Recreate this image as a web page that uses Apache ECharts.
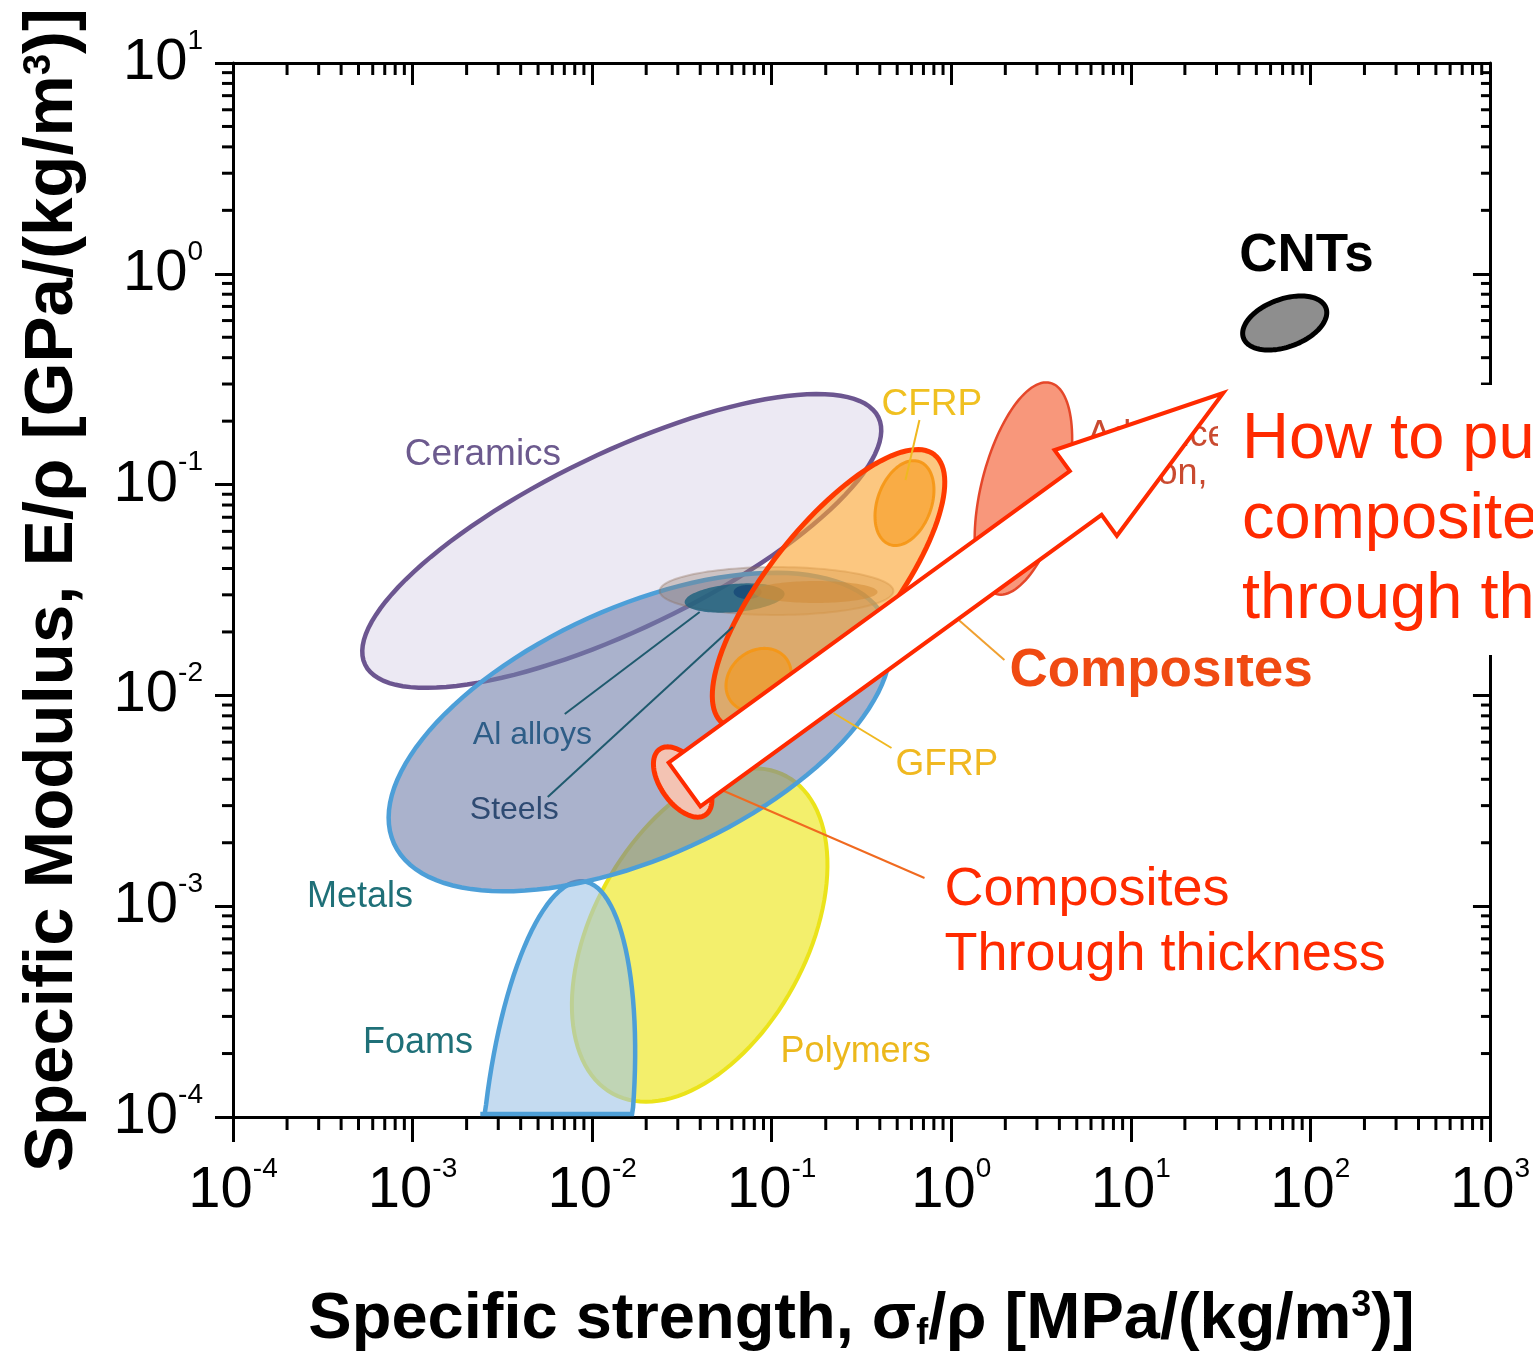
<!DOCTYPE html>
<html>
<head>
<meta charset="utf-8">
<style>
  html, body { margin: 0; padding: 0; background: #fff; }
  #chart { width: 1533px; height: 1362px; }
</style>
<script src="https://cdn.jsdelivr.net/npm/echarts@6/dist/echarts.min.js"></script>
</head>
<body>
<div id="chart"></div>
<script>
// axis ranges
const xMin = 1e-4, xMax = 1e3;
const yMin = 1e-4, yMax = 10;

// material envelopes: both ends of the long axis [strength, modulus], width = fraction of length
const regionNames = ['Ceramics', 'Polymers', 'Foams', 'Metals', 'SteelsOuter', 'AlAlloys', 'AlCore',
  'SteelsInner', 'Composites', 'CFRP', 'GFRP', 'Advanced', 'Through', 'CNTs'];
const endA = [[0.393, 0.2085], [0.1209, 0.004131], [0.00893, 0.001312], [0.4295, 0.02265],
  [0.4764, 0.03128], [0.1180, 0.03040], [0.08785, 0.03094], [0.3885, 0.03094],
  [0.806, 0.1385], [0.665, 0.1285], [0.1192, 0.01513], [3.561, 0.3037],
  [0.04287, 0.002714], [122.1, 0.6883]];
const endB = [[5.44e-4, 0.0140], [0.01304, 1.29e-4], [0.004634, 6.4e-6], [7.88e-4, 0.001983],
  [0.02377, 0.03128], [0.03276, 0.02761], [0.06138, 0.03094], [0.07929, 0.03094],
  [0.0533, 0.00738], [0.453, 0.0520], [0.05998, 0.009254], [1.787, 0.03023],
  [0.02378, 0.005556], [42.39, 0.4959]];
const widthRatio = [0.309, 0.591, 0.30, 0.463, 0.205, 0.28, 0.5, 0.177, 0.357, 0.614, 0.83, 0.385, 0.55, 0.545];

// labels
const labelTexts = ['Ceramics', 'Al alloys', 'Steels', 'Metals', 'Foams', 'Polymers', 'GFRP', 'CFRP',
  'Composites', 'Composites', 'Through thickness', 'CNTs', 'Advanced', 'carbon, aramid'];
const labelAt = [[9.06e-4, 0.1381], [0.002166, 0.006489], [0.002084, 0.002860], [2.581e-4, 0.001105],
  [5.29e-4, 2.244e-4], [0.1121, 2.034e-4], [0.4892, 0.004675], [0.4089, 0.2385],
  [2.108, 0.01305], [0.9167, 0.001193], [0.9167, 5.868e-4], [40.16, 1.214],
  [5.727, 0.1701], [5.727, 0.1123]];

// leader lines
const leaderFrom = [[0.665, 0.2025], [0.2211, 0.008251], [1.069, 0.02330], [0.05263, 0.003557],
  [0.007040, 0.008162], [0.005659, 0.003296]];
const leaderTo = [[0.5561, 0.1052], [0.4648, 0.005629], [1.977, 0.01472], [0.7096, 0.001361],
  [0.03971, 0.02487], [0.06061, 0.02111]];

// the big arrow
const arrowTail = [0.0327, 0.003776];
const arrowTip = [32.7, 0.272];

// minor ticks 2..9 in each decade
const xMinorTicks = [];
for (let k = -4; k < 3; k++) for (let m = 2; m < 10; m++) xMinorTicks.push(m * Math.pow(10, k));
const yMinorTicks = [];
for (let k = -4; k < 1; k++) for (let m = 2; m < 10; m++) yMinorTicks.push(m * Math.pow(10, k));

const regionStyle = {
  Ceramics: { fill: '#ece9f3', stroke: '#6c5690', lw: 4.5 },
  Polymers: { fill: '#f3ef6c', stroke: '#ebe31a', lw: 4 },
  Foams: { fill: 'rgba(158,195,230,0.6)', stroke: '#4d9fd8', lw: 4.5 },
  Metals: { fill: 'rgba(113,127,170,0.6)', stroke: '#4d9fd8', lw: 4.5 },
  SteelsOuter: { fill: 'rgba(150,125,110,0.35)', stroke: 'rgba(140,110,90,0.35)', lw: 2 },
  AlAlloys: { fill: 'rgba(25,95,125,0.8)', stroke: null, lw: 0 },
  AlCore: { fill: '#1c4f7a', stroke: null, lw: 0 },
  SteelsInner: { fill: 'rgba(140,90,50,0.5)', stroke: null, lw: 0 },
  Composites: { fill: 'rgba(250,165,50,0.62)', stroke: '#ff3a00', lw: 5 },
  CFRP: { fill: 'rgba(245,150,20,0.55)', stroke: 'rgba(245,150,20,0.9)', lw: 3 },
  GFRP: { fill: 'rgba(245,150,20,0.55)', stroke: 'rgba(245,150,20,0.9)', lw: 3 },
  Advanced: { fill: '#f8977b', stroke: '#e5472a', lw: 2.5 },
  Through: { fill: '#f3c3b3', stroke: '#ff3300', lw: 5 },
  CNTs: { fill: '#8e8e8e', stroke: '#000', lw: 5 }
};

const labelStyle = [
  { c: '#6c5a8e', s: 37 }, { c: '#2e5d87', s: 32 }, { c: '#2e4a72', s: 32 }, { c: '#1f7078', s: 36 },
  { c: '#1f7078', s: 36 }, { c: '#ecb81c', s: 36 }, { c: '#f0b820', s: 37 }, { c: '#f0c020', s: 37 },
  { c: '#f04a12', s: 53, w: 'bold' }, { c: '#ff2a00', s: 54 }, { c: '#ff2a00', s: 54 },
  { c: '#000', s: 53, w: 'bold' }, { c: '#c94a30', s: 36 }, { c: '#c94a30', s: 36 }
];
const leaderColor = ['#f0b820', '#f0b820', '#f0a030', '#f06a20', '#1f5a6e', '#1f5a6e'];

const font = '"Liberation Sans", Arial, sans-serif';
const narrow = '"Liberation Sans Narrow", "Liberation Sans", sans-serif';

var chart = echarts.init(document.getElementById('chart'));

function expLabel(value) {
  const e = Math.round(Math.log10(value));
  return '{b|10}{s|' + e + '}';
}
const tickRich = {
  b: { fontFamily: narrow, fontSize: 58, lineHeight: 72, color: '#000' },
  s: { fontFamily: narrow, fontSize: 28, lineHeight: 28, verticalAlign: 'top', color: '#000' }
};

function ellipse(api, a, b, ratio, floorY) {
  const p1 = api.coord(a), p2 = api.coord(b);
  const cx = (p1[0] + p2[0]) / 2, cy = (p1[1] + p2[1]) / 2;
  const dx = (p1[0] - p2[0]) / 2, dy = (p1[1] - p2[1]) / 2;
  const ra = Math.hypot(dx, dy), rb = ra * ratio;
  const ux = dx / ra, uy = dy / ra;
  const pts = [];
  for (let i = 0; i < 120; i++) {
    const t = i / 120 * 2 * Math.PI;
    const c = Math.cos(t) * ra, s = Math.sin(t) * rb;
    pts.push([cx + c * ux - s * uy, Math.min(cy + c * uy + s * ux, floorY)]);
  }
  return pts;
}

const option = {
  animation: false,
  backgroundColor: '#fff',
  grid: { left: 233, right: 42, top: 63, bottom: 245 },
  xAxis: [{
    type: 'log', logBase: 10, min: xMin, max: xMax, interval: 1, position: 'bottom',
    name: '{t|Specific strength, σ}{sub|f}{t|/ρ [MPa/(kg/m}{sup|3}{t|)]}',
    nameLocation: 'middle', nameGap: 171,
    nameTextStyle: {
      rich: {
        t: { fontFamily: font, fontWeight: 'bold', fontSize: 65, lineHeight: 64, color: '#000' },
        sub: { fontFamily: font, fontWeight: 'bold', fontSize: 36, lineHeight: 18, verticalAlign: 'bottom', color: '#000' },
        sup: { fontFamily: font, fontWeight: 'bold', fontSize: 36, lineHeight: 30, verticalAlign: 'top', color: '#000' }
      }
    },
    axisLine: { onZero: false, lineStyle: { color: '#000', width: 3 } },
    axisTick: { length: 25, lineStyle: { color: '#000', width: 3 } },
    axisLabel: { margin: 38, formatter: expLabel, rich: tickRich },
    splitLine: { show: false }
  }, {
    type: 'log', logBase: 10, min: xMin, max: xMax, interval: 1, position: 'top',
    axisLine: { onZero: false, lineStyle: { color: '#000', width: 3 } },
    axisTick: { inside: true, length: 22, lineStyle: { color: '#000', width: 3 } },
    axisLabel: { show: false },
    splitLine: { show: false }
  }],
  yAxis: [{
    type: 'log', logBase: 10, min: yMin, max: yMax, interval: 1, position: 'left',
    name: '{t|Specific Modulus, E/ρ [GPa/(kg/m}{sup|3}{t|)]}',
    nameLocation: 'middle', nameGap: 148, nameRotate: 90,
    nameTextStyle: {
      rich: {
        t: { fontFamily: font, fontWeight: 'bold', fontSize: 69, lineHeight: 64, color: '#000' },
        sup: { fontFamily: font, fontWeight: 'bold', fontSize: 38, lineHeight: 30, verticalAlign: 'top', color: '#000' }
      }
    },
    axisLine: { onZero: false, lineStyle: { color: '#000', width: 3 } },
    axisTick: { length: 18, lineStyle: { color: '#000', width: 3 } },
    axisLabel: { margin: 30, formatter: expLabel, rich: tickRich },
    splitLine: { show: false }
  }, {
    type: 'log', logBase: 10, min: yMin, max: yMax, interval: 1, position: 'right',
    axisLine: { onZero: false, lineStyle: { color: '#000', width: 3 } },
    axisTick: { inside: true, length: 17, lineStyle: { color: '#000', width: 3 } },
    axisLabel: { show: false },
    splitLine: { show: false }
  }],
  series: [
    {
      // material envelopes
      type: 'custom', z: 2, silent: true, clip: false,
      data: regionNames.map((n, i) => [endA[i][0], endA[i][1], endB[i][0], endB[i][1], widthRatio[i]]),
      encode: { x: [0, 2], y: [1, 3] },
      renderItem: function (params, api) {
        const st = regionStyle[regionNames[params.dataIndex]];
        const floorY = api.coord([1, yMin])[1] - 3;
        const pts = ellipse(api, [api.value(0), api.value(1)], [api.value(2), api.value(3)], api.value(4), floorY);
        return {
          type: 'polygon', shape: { points: pts },
          style: { fill: st.fill, stroke: st.stroke, lineWidth: st.lw }
        };
      }
    },
    {
      // leader lines
      type: 'custom', z: 4, silent: true, clip: false,
      data: leaderFrom.map((p, i) => [p[0], p[1], leaderTo[i][0], leaderTo[i][1]]),
      encode: { x: [0, 2], y: [1, 3] },
      renderItem: function (params, api) {
        const a = api.coord([api.value(0), api.value(1)]);
        const b = api.coord([api.value(2), api.value(3)]);
        return {
          type: 'line', shape: { x1: a[0], y1: a[1], x2: b[0], y2: b[1] },
          style: { stroke: leaderColor[params.dataIndex], lineWidth: 2 }
        };
      }
    },
    {
      // region labels
      type: 'custom', z: 5, silent: true, clip: false,
      data: labelAt.map(p => [p[0], p[1]]),
      encode: { x: 0, y: 1 },
      renderItem: function (params, api) {
        const i = params.dataIndex;
        const p = api.coord([api.value(0), api.value(1)]);
        const ls = labelStyle[i];
        return {
          type: 'text', x: p[0], y: p[1],
          style: {
            text: labelTexts[i], fill: ls.c, fontSize: ls.s, fontFamily: font,
            fontWeight: ls.w || 'normal', align: 'left', verticalAlign: 'middle',
            textAlign: 'left', textVerticalAlign: 'middle'
          }
        };
      }
    },
    {
      // arrow
      type: 'custom', z: 10, silent: true, clip: false,
      data: [[arrowTail[0], arrowTail[1], arrowTip[0], arrowTip[1]]],
      encode: { x: [0, 2], y: [1, 3] },
      renderItem: function (params, api) {
        const T = api.coord([api.value(0), api.value(1)]);
        const P = api.coord([api.value(2), api.value(3)]);
        const L = Math.hypot(P[0] - T[0], P[1] - T[1]);
        const ux = (P[0] - T[0]) / L, uy = (P[1] - T[1]) / L;
        const nx = -uy, ny = ux;
        const w1 = 27, w2 = 53, hl = 170;
        const H = [T[0] + ux * (L - hl), T[1] + uy * (L - hl)];
        const pts = [
          [T[0] - nx * w1, T[1] - ny * w1],
          [H[0] - nx * w1, H[1] - ny * w1],
          [H[0] - nx * w2, H[1] - ny * w2],
          [P[0], P[1]],
          [H[0] + nx * w2, H[1] + ny * w2],
          [H[0] + nx * w1, H[1] + ny * w1],
          [T[0] + nx * w1, T[1] + ny * w1]
        ];
        return {
          type: 'polygon', shape: { points: pts },
          style: { fill: '#fff', stroke: '#ff2a00', lineWidth: 4, lineJoin: 'miter' }
        };
      }
    },
    {
      // minor ticks, x
      type: 'custom', z: 3, silent: true, clip: false,
      data: xMinorTicks.map(v => [v, yMin]),
      encode: { x: 0, y: 1 },
      renderItem: function (params, api) {
        const v = api.value(0);
        const b = api.coord([v, yMin]);
        const t = api.coord([v, yMax]);
        return {
          type: 'group', children: [
            { type: 'line', shape: { x1: b[0], y1: b[1], x2: b[0], y2: b[1] + 13 }, style: { stroke: '#000', lineWidth: 3 } },
            { type: 'line', shape: { x1: t[0], y1: t[1], x2: t[0], y2: t[1] + 12 }, style: { stroke: '#000', lineWidth: 3 } }
          ]
        };
      }
    },
    {
      // minor ticks, y
      type: 'custom', z: 3, silent: true, clip: false,
      data: yMinorTicks.map(v => [xMin, v]),
      encode: { x: 0, y: 1 },
      renderItem: function (params, api) {
        const v = api.value(1);
        const l = api.coord([xMin, v]);
        const r = api.coord([xMax, v]);
        return {
          type: 'group', children: [
            { type: 'line', shape: { x1: l[0], y1: l[1], x2: l[0] - 11, y2: l[1] }, style: { stroke: '#000', lineWidth: 3 } },
            { type: 'line', shape: { x1: r[0], y1: r[1], x2: r[0] - 9, y2: r[1] }, style: { stroke: '#000', lineWidth: 3 } }
          ]
        };
      }
    }
  ],
  graphic: [
    { type: 'rect', z: 8, silent: true, shape: { x: 1218, y: 385, width: 330, height: 270 }, style: { fill: '#fff' } },
    { type: 'text', z: 21, silent: true, x: 1242, y: 440, style: { text: 'How to push', fill: '#ff2a00', font: '65px ' + font, textVerticalAlign: 'middle', verticalAlign: 'middle' } },
    { type: 'text', z: 21, silent: true, x: 1242, y: 520, style: { text: 'composites', fill: '#ff2a00', font: '65px ' + font, textVerticalAlign: 'middle', verticalAlign: 'middle' } },
    { type: 'text', z: 21, silent: true, x: 1242, y: 600, style: { text: 'through the', fill: '#ff2a00', font: '65px ' + font, textVerticalAlign: 'middle', verticalAlign: 'middle' } }
  ]
};

chart.setOption(option);
</script>
</body>
</html>
